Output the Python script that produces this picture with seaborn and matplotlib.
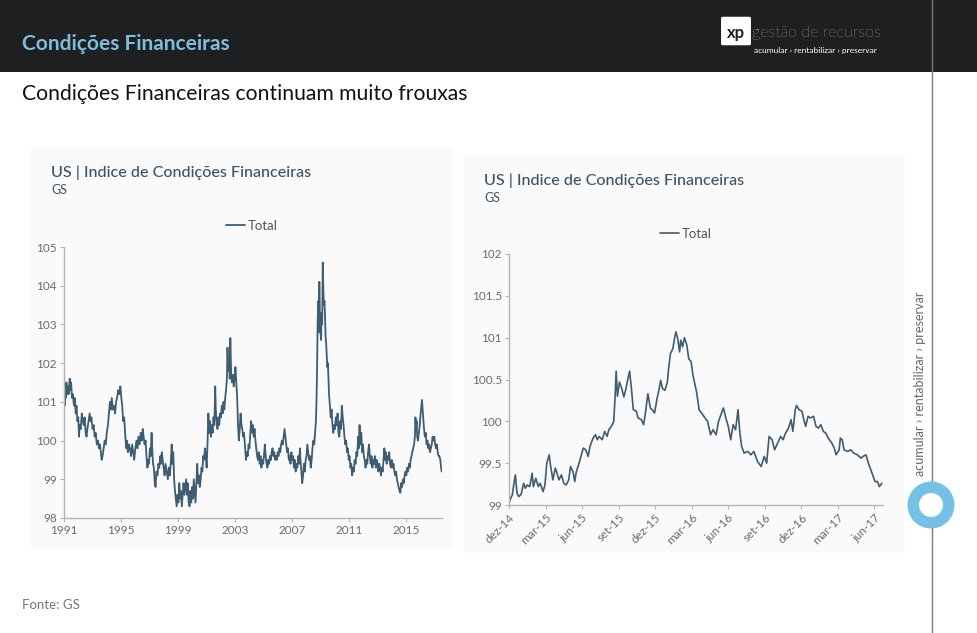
import matplotlib
matplotlib.use('Agg')
import matplotlib.pyplot as plt
import seaborn as sns
from matplotlib.patches import Rectangle, Ellipse, FancyBboxPatch

# US financial conditions index (GS), 1991 - mid 2017
long_years = [
    1991.00, 1991.02, 1991.04, 1991.08, 1991.12, 1991.17, 1991.22, 1991.28, 1991.33, 1991.40,
    1991.45, 1991.50, 1991.56, 1991.62, 1991.70, 1991.76, 1991.82, 1991.88, 1991.94, 1992.00,
    1992.05, 1992.10, 1992.17, 1992.25, 1992.32, 1992.38, 1992.45, 1992.52, 1992.58, 1992.64,
    1992.72, 1992.80, 1992.86, 1992.92, 1993.00, 1993.08, 1993.15, 1993.22, 1993.30, 1993.38,
    1993.45, 1993.52, 1993.58, 1993.64, 1993.70, 1993.78, 1993.85, 1993.92, 1994.00, 1994.08,
    1994.15, 1994.22, 1994.28, 1994.35, 1994.42, 1994.50, 1994.58, 1994.65, 1994.72, 1994.80,
    1994.88, 1994.95, 1995.02, 1995.08, 1995.15, 1995.22, 1995.30, 1995.36, 1995.42, 1995.48,
    1995.55, 1995.62, 1995.70, 1995.78, 1995.85, 1995.92, 1996.00, 1996.08, 1996.15, 1996.22,
    1996.30, 1996.38, 1996.45, 1996.52, 1996.58, 1996.65, 1996.72, 1996.78, 1996.85, 1996.90,
    1996.96, 1997.02, 1997.08, 1997.14, 1997.18, 1997.24, 1997.30, 1997.36, 1997.42, 1997.48,
    1997.55, 1997.62, 1997.68, 1997.75, 1997.80, 1997.86, 1997.92, 1997.98, 1998.05, 1998.12,
    1998.20, 1998.28, 1998.35, 1998.42, 1998.48, 1998.55, 1998.60, 1998.66, 1998.72, 1998.78,
    1998.84, 1998.90, 1998.96, 1999.02, 1999.08, 1999.14, 1999.20, 1999.26, 1999.32, 1999.38,
    1999.44, 1999.50, 1999.56, 1999.62, 1999.68, 1999.74, 1999.80, 1999.86, 1999.92, 1999.98,
    2000.04, 2000.10, 2000.16, 2000.22, 2000.28, 2000.34, 2000.40, 2000.46, 2000.52, 2000.58,
    2000.64, 2000.70, 2000.76, 2000.82, 2000.88, 2000.94, 2001.00, 2001.06, 2001.12, 2001.18,
    2001.24, 2001.30, 2001.36, 2001.42, 2001.48, 2001.54, 2001.60, 2001.64, 2001.70, 2001.76,
    2001.82, 2001.88, 2001.94, 2002.00, 2002.06, 2002.12, 2002.18, 2002.24, 2002.30, 2002.36,
    2002.42, 2002.46, 2002.52, 2002.58, 2002.62, 2002.66, 2002.72, 2002.78, 2002.84, 2002.90,
    2002.96, 2003.02, 2003.08, 2003.14, 2003.20, 2003.26, 2003.32, 2003.38, 2003.44, 2003.50,
    2003.56, 2003.62, 2003.70, 2003.76, 2003.82, 2003.88, 2003.94, 2004.00, 2004.06, 2004.12,
    2004.18, 2004.24, 2004.30, 2004.36, 2004.42, 2004.48, 2004.54, 2004.60, 2004.66, 2004.72,
    2004.78, 2004.84, 2004.90, 2004.96, 2005.02, 2005.08, 2005.14, 2005.20, 2005.26, 2005.32,
    2005.38, 2005.44, 2005.50, 2005.56, 2005.62, 2005.68, 2005.74, 2005.80, 2005.86, 2005.92,
    2005.98, 2006.04, 2006.10, 2006.16, 2006.22, 2006.28, 2006.34, 2006.40, 2006.46, 2006.52,
    2006.58, 2006.64, 2006.70, 2006.76, 2006.82, 2006.88, 2006.94, 2007.00, 2007.06, 2007.12,
    2007.18, 2007.24, 2007.30, 2007.36, 2007.42, 2007.48, 2007.54, 2007.58, 2007.64, 2007.70,
    2007.76, 2007.82, 2007.88, 2007.94, 2008.00, 2008.06, 2008.12, 2008.18, 2008.24, 2008.30,
    2008.36, 2008.42, 2008.48, 2008.54, 2008.60, 2008.66, 2008.70, 2008.74, 2008.78, 2008.82,
    2008.86, 2008.90, 2008.94, 2008.98, 2009.02, 2009.06, 2009.10, 2009.14, 2009.18, 2009.22,
    2009.26, 2009.30, 2009.34, 2009.38, 2009.42, 2009.46, 2009.50, 2009.54, 2009.58, 2009.62,
    2009.66, 2009.70, 2009.76, 2009.82, 2009.88, 2009.94, 2010.00, 2010.06, 2010.12, 2010.18,
    2010.24, 2010.30, 2010.36, 2010.42, 2010.48, 2010.54, 2010.60, 2010.66, 2010.72, 2010.78,
    2010.84, 2010.90, 2010.96, 2011.02, 2011.08, 2011.14, 2011.20, 2011.26, 2011.32, 2011.38,
    2011.44, 2011.50, 2011.56, 2011.62, 2011.66, 2011.72, 2011.78, 2011.84, 2011.90, 2011.96,
    2012.02, 2012.08, 2012.14, 2012.20, 2012.26, 2012.32, 2012.38, 2012.44, 2012.50, 2012.56,
    2012.62, 2012.68, 2012.74, 2012.80, 2012.86, 2012.92, 2012.98, 2013.04, 2013.10, 2013.16,
    2013.22, 2013.28, 2013.34, 2013.40, 2013.46, 2013.50, 2013.56, 2013.62, 2013.68, 2013.74,
    2013.80, 2013.86, 2013.92, 2013.98, 2014.04, 2014.10, 2014.16, 2014.22, 2014.28, 2014.34,
    2014.40, 2014.46, 2014.52, 2014.58, 2014.64, 2014.70, 2014.76, 2014.82, 2014.88, 2014.94,
    2015.00, 2015.06, 2015.12, 2015.18, 2015.24, 2015.30, 2015.36, 2015.42, 2015.48, 2015.54,
    2015.60, 2015.64, 2015.68, 2015.72, 2015.76, 2015.82, 2015.88, 2015.94, 2016.00, 2016.06,
    2016.10, 2016.14, 2016.18, 2016.24, 2016.30, 2016.36, 2016.42, 2016.48, 2016.54, 2016.60,
    2016.66, 2016.72, 2016.78, 2016.84, 2016.90, 2016.96, 2017.02, 2017.08, 2017.14, 2017.20,
    2017.26, 2017.32, 2017.38, 2017.44, 2017.48,
]
long_values = [
    102.1, 101.3, 100.9, 101.4, 101.1, 101.5, 101.2, 101.4, 101.2, 101.6,
    101.3, 101.5, 101.1, 101.2, 100.9, 101.1, 100.7, 100.9, 100.5, 100.6,
    100.1, 100.4, 100.3, 100.7, 100.5, 100.4, 100.6, 100.2, 100.1, 100.3,
    100.5, 100.7, 100.5, 100.6, 100.3, 100.4, 100.1, 100.2, 99.9, 100.0,
    99.8, 99.9, 99.7, 99.5, 99.6, 99.8, 100.0, 99.9, 100.2, 100.4,
    100.7, 101.0, 100.8, 101.1, 100.8, 100.9, 100.7, 101.0, 101.1, 101.3,
    101.2, 101.4, 101.1, 100.9, 100.5, 100.6, 100.1, 99.8, 100.0, 99.7,
    99.9, 99.8, 99.6, 99.9, 99.7, 99.5, 99.8, 100.0, 99.8, 100.1,
    99.9, 100.2, 100.0, 100.3, 100.1, 99.9, 100.0, 99.6, 99.3, 99.5,
    99.4, 99.8, 99.6, 100.2, 99.8, 99.4, 99.3, 98.9, 98.8, 99.2,
    99.1, 99.4, 99.3, 99.6, 99.4, 99.7, 99.5, 99.3, 99.1, 99.4,
    99.2, 99.0, 99.3, 99.1, 99.4, 99.9, 99.4, 99.7, 99.0, 98.7,
    98.5, 98.3, 98.6, 98.4, 98.9, 98.5, 98.7, 98.3, 98.6, 98.9,
    98.6, 98.8, 99.0, 98.6, 98.9, 98.4, 98.3, 98.7, 98.4, 98.8,
    98.5, 99.0, 98.7, 98.4, 98.9, 99.4, 98.9, 99.1, 98.8, 99.0,
    99.3, 99.2, 99.6, 99.5, 99.8, 99.6, 99.3, 99.9, 100.7, 100.2,
    100.5, 100.1, 100.4, 100.2, 100.6, 100.4, 101.4, 100.8, 100.5, 100.3,
    100.6, 100.4, 100.7, 100.6, 100.9, 100.7, 101.0, 100.8, 101.1, 101.3,
    101.6, 102.4, 101.8, 102.1, 101.6, 102.65, 101.7, 101.5, 101.7, 101.4,
    101.6, 101.9, 101.5, 101.1, 100.4, 100.0, 100.3, 100.7, 100.4, 100.3,
    100.1, 100.2, 99.8, 99.5, 99.7, 99.6, 99.9, 99.8, 100.2, 100.5,
    100.2, 100.4, 100.1, 100.3, 100.0, 99.8, 99.6, 99.5, 99.7, 99.4,
    99.6, 99.3, 99.5, 99.4, 99.6, 99.9, 99.6, 99.4, 99.3, 99.5,
    99.4, 99.6, 99.5, 99.7, 99.8, 99.6, 99.7, 99.5, 99.6, 99.5,
    99.7, 99.6, 99.8, 99.7, 99.9, 100.0, 99.9, 100.1, 100.3, 100.1,
    99.9, 99.7, 99.8, 99.5, 99.6, 99.4, 99.7, 99.5, 99.6, 99.3,
    99.5, 99.2, 99.4, 99.3, 99.6, 99.4, 99.8, 99.5, 99.2, 98.9,
    99.1, 99.4, 99.2, 99.5, 99.6, 99.9, 99.7, 99.5, 99.6, 99.3,
    99.5, 99.8, 100.0, 99.9, 100.2, 100.5, 101.0, 101.8, 103.0, 103.6,
    102.8, 104.1, 103.2, 102.8, 102.6, 103.3, 103.0, 104.6, 103.9, 103.5,
    103.6, 103.2, 102.7, 102.5, 102.2, 101.9, 102.0, 101.6, 101.2, 101.0,
    100.8, 100.6, 100.8, 100.4, 100.2, 100.4, 100.3, 100.6, 100.4, 100.7,
    100.2, 100.1, 100.5, 100.3, 100.9, 100.6, 100.4, 100.1, 99.9, 100.0,
    99.7, 99.8, 99.5, 99.6, 99.3, 99.4, 99.1, 99.3, 99.2, 99.5,
    99.4, 99.7, 99.6, 100.1, 99.8, 100.4, 99.9, 100.2, 99.7, 99.9,
    99.6, 99.5, 99.3, 99.5, 99.4, 99.7, 99.9, 99.6, 99.4, 99.6,
    99.3, 99.5, 99.4, 99.6, 99.3, 99.5, 99.4, 99.2, 99.4, 99.3,
    99.1, 99.3, 99.2, 99.5, 99.8, 99.5, 99.7, 99.4, 99.6, 99.5,
    99.7, 99.4, 99.3, 99.5, 99.3, 99.4, 99.2, 99.1, 99.2, 99.0,
    98.9, 98.8, 98.7, 98.65, 98.9, 98.8, 99.0, 98.9, 99.1, 99.2,
    99.1, 99.3, 99.2, 99.4, 99.3, 99.5, 99.6, 99.7, 99.8, 99.9,
    100.1, 100.6, 100.3, 100.5, 100.1, 100.0, 100.2, 100.4, 100.7, 100.9,
    101.05, 100.8, 100.6, 100.3, 100.1, 100.2, 99.9, 100.0, 99.8, 99.9,
    99.7, 99.8, 99.9, 100.1, 100.0, 100.1, 99.9, 99.8, 99.9, 99.7,
    99.6, 99.6, 99.5, 99.3, 99.2,
]
long_ticks = [1991, 1995, 1999, 2003, 2007, 2011, 2015]

# same index, dez-14 to jun-17, x in months since 1 dez 2014
short_months = [
    0.00, 0.10, 0.27, 0.41, 0.52, 0.66, 0.82, 1.00, 1.20, 1.34,
    1.50, 1.70, 1.90, 2.00, 2.20, 2.40, 2.55, 2.80, 2.95, 3.10,
    3.30, 3.40, 3.60, 3.80, 3.90, 4.10, 4.30, 4.50, 4.70, 4.90,
    5.05, 5.25, 5.40, 5.50, 5.75, 5.90, 6.10, 6.30, 6.50, 6.65,
    6.90, 7.10, 7.25, 7.40, 7.65, 7.85, 8.05, 8.20, 8.40, 8.60,
    8.70, 8.80, 8.90, 9.07, 9.26, 9.43, 9.60, 9.75, 9.90, 10.05,
    10.20, 10.45, 10.60, 10.85, 11.05, 11.20, 11.40, 11.60, 11.75, 11.95,
    12.15, 12.30, 12.45, 12.60, 12.80, 13.00, 13.10, 13.25, 13.45, 13.60,
    13.70, 13.85, 14.00, 14.10, 14.25, 14.40, 14.60, 14.75, 14.95, 15.10,
    15.25, 15.40, 15.60, 16.00, 16.30, 16.55, 16.75, 17.00, 17.20, 17.40,
    17.60, 17.80, 18.00, 18.20, 18.40, 18.60, 18.80, 18.95, 19.10, 19.30,
    19.60, 19.85, 20.10, 20.40, 20.70, 20.95, 21.15, 21.35, 21.60, 21.80,
    22.05, 22.30, 22.50, 22.70, 22.95, 23.15, 23.30, 23.50, 23.60, 23.80,
    24.05, 24.20, 24.35, 24.55, 24.75, 25.00, 25.20, 25.40, 25.60, 25.80,
    26.00, 26.20, 26.50, 26.70, 26.85, 27.10, 27.20, 27.35, 27.50, 27.80,
    28.05, 28.30, 28.60, 28.90, 29.05, 29.30, 29.50, 29.70, 29.90, 30.05,
    30.25, 30.40, 30.60,
]
short_values = [
    99.02, 99.07, 99.12, 99.26, 99.36, 99.14, 99.10, 99.13, 99.26, 99.20,
    99.24, 99.22, 99.38, 99.22, 99.32, 99.22, 99.26, 99.16, 99.24, 99.50,
    99.60, 99.48, 99.30, 99.44, 99.40, 99.30, 99.36, 99.26, 99.24, 99.30,
    99.46, 99.40, 99.28, 99.38, 99.50, 99.58, 99.68, 99.66, 99.58, 99.70,
    99.80, 99.84, 99.78, 99.82, 99.78, 99.88, 99.82, 99.90, 99.94, 100.00,
    100.27, 100.60, 100.30, 100.47, 100.39, 100.29, 100.39, 100.50, 100.60, 100.39,
    100.14, 100.12, 100.04, 100.02, 99.96, 100.10, 100.33, 100.16, 100.14, 100.10,
    100.27, 100.37, 100.49, 100.39, 100.37, 100.47, 100.63, 100.81, 100.87, 101.00,
    101.07, 100.99, 100.83, 100.97, 100.89, 101.00, 100.91, 100.75, 100.71, 100.55,
    100.45, 100.35, 100.14, 100.06, 100.00, 99.84, 99.90, 99.84, 100.00, 100.08,
    100.16, 100.04, 99.94, 99.78, 99.96, 99.90, 100.14, 99.86, 99.70, 99.62,
    99.64, 99.60, 99.64, 99.52, 99.46, 99.58, 99.50, 99.82, 99.78, 99.66,
    99.74, 99.82, 99.78, 99.86, 99.92, 100.02, 99.88, 100.14, 100.19, 100.14,
    100.12, 100.02, 99.94, 100.06, 100.04, 100.06, 99.94, 99.92, 99.96, 99.88,
    99.86, 99.80, 99.74, 99.68, 99.60, 99.66, 99.80, 99.78, 99.66, 99.64,
    99.66, 99.62, 99.60, 99.56, 99.58, 99.60, 99.50, 99.42, 99.34, 99.28,
    99.28, 99.22, 99.26,
]
short_ticks = [0, 3, 6, 9, 12, 15, 18, 21, 24, 27, 30]
short_tick_labels = ['dez-14', 'mar-15', 'jun-15', 'set-15', 'dez-15', 'mar-16',
                     'jun-16', 'set-16', 'dez-16', 'mar-17', 'jun-17']

LINE = '#3e5c72'
TITLE = '#3b5466'
TICK = '#6b6b6b'
SPINE = '#b3b3b3'
BLUE = '#74c0e6'

sns.set_theme(style='white')
plt.rcParams['font.family'] = ['Lato', 'DejaVu Sans']

W, H = 978, 633
fig = plt.figure(figsize=(W / 100, H / 100), dpi=100)
fig.patch.set_facecolor('white')


def fx(px):
    return px / W


def fy(py):
    return 1 - py / H


# header band
fig.patches.append(Rectangle((0, fy(72)), 1, 72 / H, transform=fig.transFigure,
                             facecolor='#1e1f21', edgecolor='none', zorder=-2))
fig.text(fx(22), fy(44), 'Condições Financeiras', color='#7dbde0', fontsize=15,
         fontweight='bold', va='center', ha='left')
# logo
fig.patches.append(FancyBboxPatch((fx(723), fy(44)), 26 / W, 26 / H,
                                  boxstyle='round,pad=0.002', transform=fig.transFigure,
                                  facecolor='white', edgecolor='none', zorder=-1))
fig.text(fx(736), fy(33), 'xp', color='#1e1f21', fontsize=12, fontweight='bold',
         ha='center', va='center')
fig.text(fx(752), fy(33), 'gestão de recursos', color='white', fontsize=11.5,
         fontweight='light', ha='left', va='center')
fig.text(fx(754), fy(50), 'acumular › rentabilizar › preservar', color='white',
         fontsize=6, ha='left', va='center')

fig.text(fx(22), fy(94), 'Condições Financeiras continuam muito frouxas', color='#111111',
         fontsize=15.2, ha='left', va='center')
fig.text(fx(22), fy(605), 'Fonte: GS', color='#777777', fontsize=9.5, ha='left', va='center')

# right sidebar
fig.add_artist(plt.Line2D([fx(932), fx(932)], [0, 1], transform=fig.transFigure,
                          color='#7a7a7a', lw=1))
fig.text(fx(920), fy(384), 'acumular › rentabilizar › preservar', color='#666666',
         fontsize=9, rotation=90, ha='center', va='center')
fig.patches.append(Ellipse((fx(931), fy(505)), 47 / W, 47 / H, transform=fig.transFigure,
                           facecolor=BLUE, edgecolor='none', zorder=3))
fig.patches.append(Ellipse((fx(931), fy(505)), 24 / W, 24 / H, transform=fig.transFigure,
                           facecolor='white', edgecolor='none', zorder=4))

# chart panels, behind the axes
fig.patches.append(Rectangle((fx(30), fy(548)), 423 / W, 400 / H, transform=fig.transFigure,
                             facecolor='#fafafa', edgecolor='none', zorder=-1))
fig.patches.append(Rectangle((fx(463), fy(553)), 442 / W, 398 / H, transform=fig.transFigure,
                             facecolor='#fafafa', edgecolor='none', zorder=-1))

fig.text(fx(51), fy(173), 'US | Indice de Condições Financeiras', color=TITLE, fontsize=11.6,
         fontweight='medium', va='center')
fig.text(fx(51), fy(190), 'GS', color=TITLE, fontsize=9, va='center')
fig.text(fx(484), fy(181), 'US | Indice de Condições Financeiras', color=TITLE, fontsize=11.6,
         fontweight='medium', va='center')
fig.text(fx(484), fy(198), 'GS', color=TITLE, fontsize=9, va='center')


def style_axes(ax):
    ax.set_facecolor('none')
    sns.despine(ax=ax)
    for side in ('left', 'bottom'):
        ax.spines[side].set_color(SPINE)
        ax.spines[side].set_linewidth(1)
    ax.tick_params(axis='both', bottom=True, left=True, direction='out', length=3,
                   width=0.8, color=SPINE, labelsize=8.5, labelcolor=TICK, pad=2)
    ax.set_xlabel('')
    ax.set_ylabel('')
    ax.grid(False)


# left chart: long history
ax1 = fig.add_axes([fx(64), fy(518), 378 / W, 271 / H])
sns.lineplot(x=long_years, y=long_values, ax=ax1, color=LINE, lw=1.3, label='Total')
ax1.set_xlim(1991, 2017.5)
ax1.set_ylim(98, 105)
ax1.set_xticks(long_ticks)
ax1.set_xticklabels([str(t) for t in long_ticks])
ax1.set_yticks(range(98, 106))
style_axes(ax1)
ax1.legend(loc='center', bbox_to_anchor=(fx(252), fy(226)), bbox_transform=fig.transFigure,
           frameon=False, handlelength=1.4, handletextpad=0.2, fontsize=9.5,
           labelcolor='#555555')

# right chart: recent period
ax2 = fig.add_axes([fx(509), fy(505), 374 / W, 251 / H])
sns.lineplot(x=short_months, y=short_values, ax=ax2, color=LINE, lw=1.2, label='Total')
ax2.set_xlim(0, 30.7)
ax2.set_ylim(99, 102)
ax2.set_xticks(short_ticks)
ax2.set_xticklabels(short_tick_labels, rotation=45, ha='right', rotation_mode='anchor')
ax2.set_yticks([99, 99.5, 100, 100.5, 101, 101.5, 102])
ax2.set_yticklabels(['99', '99.5', '100', '100.5', '101', '101.5', '102'])
style_axes(ax2)
ax2.legend(loc='center', bbox_to_anchor=(fx(686), fy(234)), bbox_transform=fig.transFigure,
           frameon=False, handlelength=1.4, handletextpad=0.2, fontsize=9.5,
           labelcolor='#555555')

fig.savefig('out.png', dpi=100)
